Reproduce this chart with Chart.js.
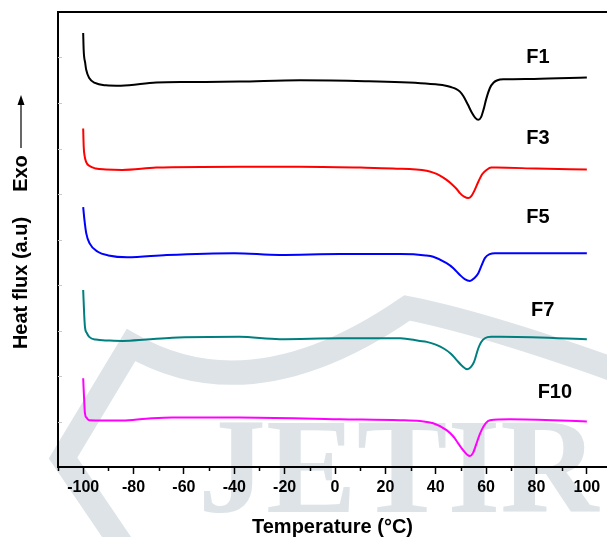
<!DOCTYPE html>
<html>
<head>
<meta charset="utf-8">
<script src="https://cdn.jsdelivr.net/npm/chart.js@4.4.1/dist/chart.umd.min.js"></script>
<style>
  html, body { margin: 0; padding: 0; background: #fff; }
  #wrap { width: 607px; height: 537px; }
</style>
</head>
<body>
<div id="wrap"><canvas id="dscChart" width="607" height="537"></canvas></div>
<script>
// DSC curves: temperature (deg C) and heat flux (a.u., curves stacked)
var f1Temp = [-100, -99.8, -99.2, -98.8, -97.6, -95.3, -91, -85, -71, -58, -38, -14, 12, 36, 40, 44, 46, 48, 49.6, 51, 52.8, 54.3, 55.6, 56.9, 58, 59, 60, 61.5, 63, 64.5, 67, 79, 100];
var f1Flux = [95.4, 91.6, 88.8, 87.3, 85.5, 84.4, 83.9, 83.8, 84.5, 84.6, 84.7, 85.0, 84.8, 84.3, 84.1, 83.8, 83.5, 83.1, 82.5, 81.5, 79.6, 77.9, 76.8, 76.3, 76.9, 78.6, 80.8, 83.3, 84.5, 85.0, 85.2, 85.3, 85.6];

var f3Temp = [-100, -99.8, -99.5, -98.8, -97.6, -95, -91, -84.5, -71, -38, -14, 10, 23, 36.4, 39, 41.5, 44.3, 46.5, 48.3, 49.6, 51.3, 52.9, 54.2, 55.4, 56.9, 58.5, 60.2, 62, 64.2, 80, 100];
var f3Flux = [74.4, 70.5, 68.6, 67.0, 66.2, 65.6, 65.4, 65.3, 65.8, 66.0, 66.0, 65.8, 65.6, 65.1, 64.7, 64.1, 63.1, 62.1, 61.1, 60.2, 59.4, 59.1, 59.6, 60.8, 62.7, 64.4, 65.3, 65.8, 65.8, 65.6, 65.4];

var f5Temp = [-100, -99.5, -98.8, -97.5, -94.2, -90, -82.5, -66.8, -40, -22, 2, 26, 36, 39, 44.3, 47, 49.6, 51.5, 53.6, 55.3, 56.9, 58.2, 59.5, 61.5, 63.5, 100];
var f5Flux = [57.1, 54.3, 51.4, 49.2, 47.3, 46.5, 46.1, 46.6, 47.0, 46.6, 46.8, 46.8, 46.5, 46.2, 44.8, 43.7, 42.2, 41.3, 40.9, 41.5, 42.6, 44.3, 45.9, 46.8, 47.0, 47.0];

var f7Temp = [-100, -99.6, -99.3, -98.5, -97.6, -95, -90, -84.4, -75, -64.6, -38, -22, 2, 26, 33.7, 36.4, 40, 43, 46, 48.3, 50.5, 52.5, 54, 55.2, 56.9, 58, 59.5, 62, 65.5, 100];
var f7Flux = [38.9, 33.5, 30.8, 29.4, 28.6, 28.0, 27.8, 27.7, 28.0, 28.4, 28.6, 28.1, 28.3, 28.3, 27.7, 27.5, 26.9, 26.1, 24.9, 23.5, 22.2, 21.5, 22.0, 23.1, 26.1, 27.4, 28.3, 28.6, 28.6, 28.1];

var f10Temp = [-100, -99.6, -99.3, -98.6, -97.6, -84.4, -75, -64.6, -38, 2, 25.8, 33.7, 39, 44.3, 47, 48.9, 51, 52.5, 53.6, 54.8, 56.2, 57.2, 58.2, 59.8, 61.5, 69.4, 100];
var f10Flux = [19.5, 14.5, 11.8, 10.8, 10.3, 10.2, 10.6, 10.9, 10.9, 10.5, 10.3, 10.1, 9.6, 8.1, 6.7, 5.2, 3.6, 2.7, 2.4, 3.1, 5.2, 6.8, 8.1, 9.6, 10.3, 10.5, 10.0];

var seriesNames = ['F1', 'F3', 'F5', 'F7', 'F10'];
var seriesTemps = [f1Temp, f3Temp, f5Temp, f7Temp, f10Temp];
var seriesFlux = [f1Flux, f3Flux, f5Flux, f7Flux, f10Flux];
var seriesColors = ['#000000', '#ff0000', '#0000ff', '#007f7f', '#ff00ff'];

// where each curve's name sits (data units)
var labelTemp = [80.6, 80.6, 80.6, 82.5, 87.3];
var labelFlux = [90.1, 72.1, 54.9, 34.5, 16.3];

var xMajorTicks = [-100, -80, -60, -40, -20, 0, 20, 40, 60, 80, 100];
var xMinorTicks = [-110, -90, -70, -50, -30, -10, 10, 30, 50, 70, 90];
var yMinorTicks = [10, 20, 30, 40, 50, 60, 70, 80, 90];

var datasets = seriesNames.map(function(name, i) {
    return {
        label: name,
        data: seriesTemps[i].map(function(t, j) { return {x: t, y: seriesFlux[i][j]}; }),
        borderColor: seriesColors[i],
        borderWidth: 2,
        pointRadius: 0,
        fill: false,
        cubicInterpolationMode: 'monotone'
    };
});

var FONT = '"Liberation Sans", Arial, sans-serif';

// faint JETIR watermark behind everything
var watermark = {
    id: 'watermark',
    beforeDraw: function(chart) {
        var ctx = chart.ctx;
        ctx.save();
        ctx.strokeStyle = '#dde3e7';
        ctx.fillStyle = '#dde3e7';
        ctx.lineWidth = 24;
        ctx.lineJoin = 'miter';
        ctx.beginPath();
        ctx.moveTo(122, 545);
        ctx.lineTo(63, 458);
        ctx.lineTo(131, 345);
        ctx.quadraticCurveTo(252, 415, 407, 308);
        ctx.quadraticCurveTo(480, 322, 615, 370);
        ctx.stroke();
        ctx.font = 'bold 136px "Liberation Serif", "Times New Roman", serif';
        ctx.textBaseline = 'alphabetic';
        ctx.textAlign = 'left';
        ctx.fillText('JETIR', 198, 512);
        ctx.restore();
    }
};

var decorations = {
    id: 'decorations',
    afterDraw: function(chart) {
        var ctx = chart.ctx;
        var area = chart.chartArea;
        var xs = chart.scales.x;
        var ys = chart.scales.y;
        ctx.save();
        // top frame line
        ctx.strokeStyle = '#000';
        ctx.lineWidth = 2;
        ctx.beginPath();
        ctx.moveTo(area.left - 1, area.top);
        ctx.lineTo(area.right + 2, area.top);
        ctx.stroke();
        // minor ticks on x axis
        ctx.lineWidth = 1.5;
        xMinorTicks.forEach(function(v) {
            var px = Math.round(xs.getPixelForValue(v)) + 0.5;
            ctx.beginPath();
            ctx.moveTo(px, area.bottom);
            ctx.lineTo(px, area.bottom + 4);
            ctx.stroke();
        });
        // faint inward ticks on y axis
        ctx.strokeStyle = '#c8c8c8';
        ctx.lineWidth = 1;
        yMinorTicks.forEach(function(v) {
            var py = Math.round(ys.getPixelForValue(v)) + 0.5;
            ctx.beginPath();
            ctx.moveTo(area.left, py);
            ctx.lineTo(area.left + 4, py);
            ctx.stroke();
        });
        // curve names
        ctx.fillStyle = '#000';
        ctx.font = 'bold 20px ' + FONT;
        ctx.textAlign = 'center';
        ctx.textBaseline = 'middle';
        seriesNames.forEach(function(name, i) {
            ctx.fillText(name, xs.getPixelForValue(labelTemp[i]), ys.getPixelForValue(labelFlux[i]));
        });
        // y title with Exo arrow
        ctx.translate(21, 0);
        ctx.rotate(-Math.PI / 2);
        ctx.font = 'bold 20px ' + FONT;
        ctx.fillText('Heat flux (a.u)', -283, 0);
        ctx.fillText('Exo', -173.5, 0);
        ctx.lineWidth = 1.2;
        ctx.strokeStyle = '#000';
        ctx.beginPath();
        ctx.moveTo(-148, 0);
        ctx.lineTo(-103, 0);
        ctx.stroke();
        ctx.beginPath();
        ctx.moveTo(-95, 0);
        ctx.lineTo(-105, -3.5);
        ctx.lineTo(-105, 3.5);
        ctx.closePath();
        ctx.fill();
        ctx.restore();
    }
};

var ctx = document.getElementById('dscChart').getContext('2d');
var dscChart = new Chart(ctx, {
    type: 'line',
    data: { datasets: datasets },
    options: {
        responsive: false,
        animation: false,
        devicePixelRatio: 1,
        layout: { padding: { top: 12, left: 0, right: 0, bottom: 0 } },
        plugins: {
            legend: { display: false },
            tooltip: { enabled: false }
        },
        scales: {
            x: {
                type: 'linear',
                min: -110,
                max: 108,
                afterFit: function(scale) { scale.height = 70; },
                afterBuildTicks: function(scale) {
                    scale.ticks = xMajorTicks.map(function(v) { return {value: v}; });
                },
                grid: {
                    drawOnChartArea: false,
                    drawTicks: true,
                    tickLength: 7,
                    tickWidth: 1.5,
                    tickColor: '#000'
                },
                border: { display: true, color: '#000', width: 2 },
                ticks: {
                    color: '#000',
                    padding: 4,
                    maxRotation: 0,
                    autoSkip: false,
                    font: { family: FONT, size: 16, weight: 'bold' }
                },
                title: {
                    display: true,
                    text: 'Temperature (°C)',
                    color: '#000',
                    padding: { top: 0, bottom: 0 },
                    font: { family: FONT, size: 20, weight: 'bold', lineHeight: 1 }
                }
            },
            y: {
                type: 'linear',
                min: 0,
                max: 100,
                afterFit: function(scale) { scale.width = 58; },
                ticks: { display: false, stepSize: 10 },
                grid: { drawOnChartArea: false, drawTicks: false },
                border: { display: true, color: '#000', width: 2 }
            }
        }
    },
    plugins: [watermark, decorations]
});
</script>
</body>
</html>
